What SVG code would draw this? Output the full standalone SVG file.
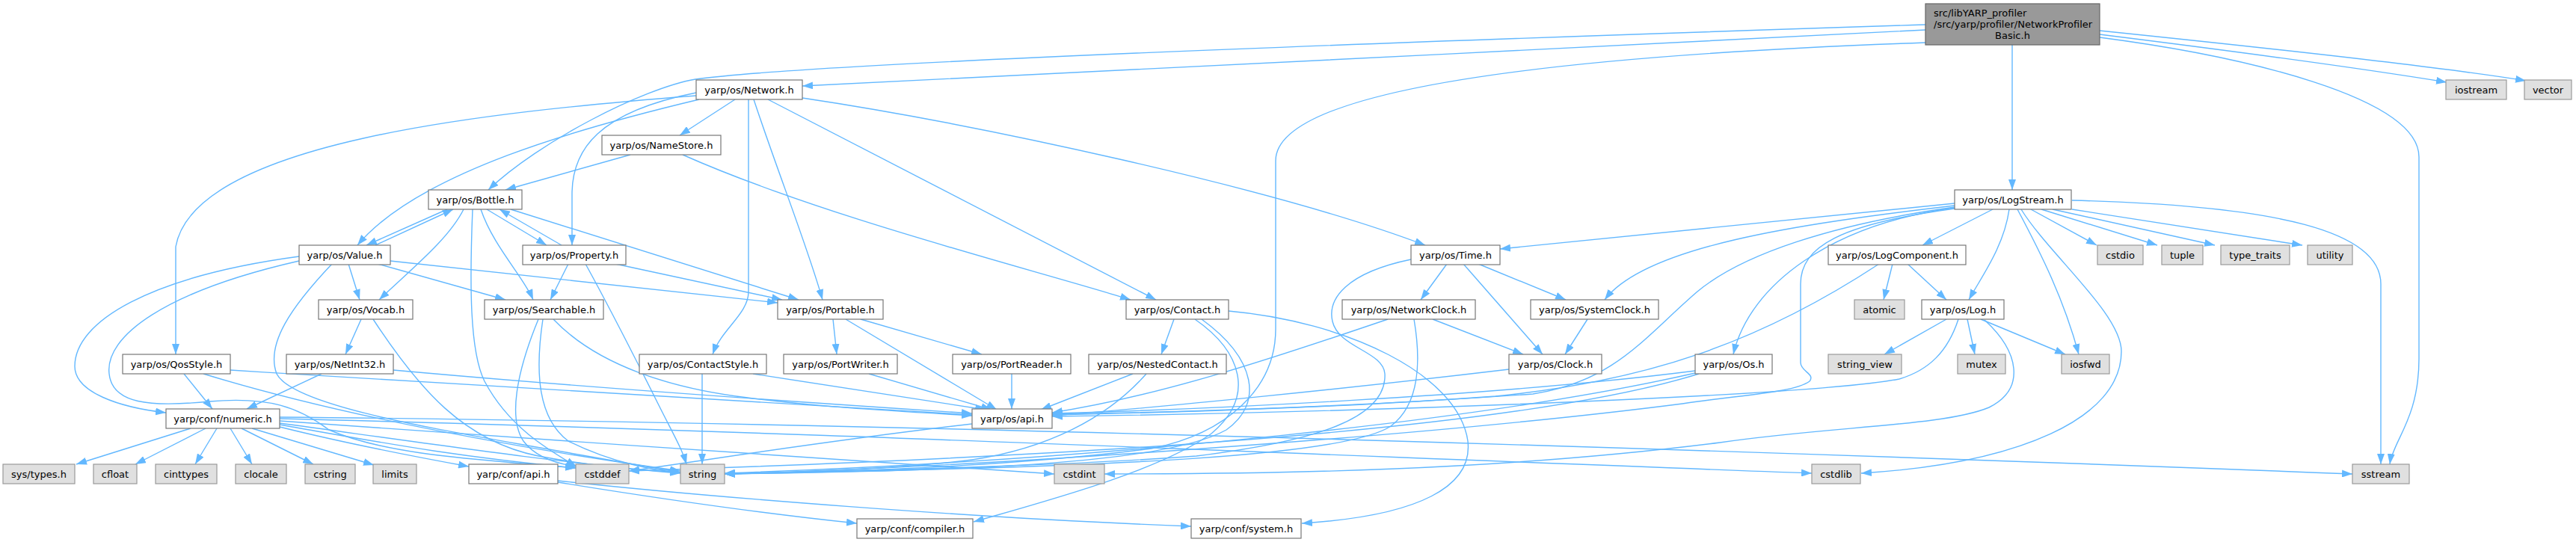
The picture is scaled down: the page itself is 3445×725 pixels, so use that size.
<svg xmlns="http://www.w3.org/2000/svg" width="3445" height="725" viewBox="0 0 3445 725">
<style>
.e path{fill:none;stroke:#63b8ff;stroke-width:1.4;marker-end:url(#ah)}
.n rect{fill:#ffffff;stroke:#777777;stroke-width:1.2}
.s rect{fill:#e0e0e0;stroke:#999999;stroke-width:1.2}
.r rect{fill:#999999;stroke:#666666;stroke-width:1.2}
text{font-family:"DejaVu Sans","Liberation Sans",sans-serif;font-size:13px;fill:#000}
.c{text-anchor:middle}
</style>
<defs>
<marker id="ah" markerUnits="userSpaceOnUse" markerWidth="15" markerHeight="10" refX="14" refY="5" orient="auto"><path d="M0,0 L14,5 L0,10 z" fill="#63b8ff"/></marker>
</defs>
<rect width="3445" height="725" fill="#ffffff"/>
<g id="connectors" class="e">
<path d="M2575,40 C2100,62 1500,97 1073,115"/>
<path d="M2575,33 C1800,58 1080,85 930,106 C860,118 720,190 653,254"/>
<path d="M2691,60 L2691,254"/>
<path d="M2808,46 C3000,70 3180,95 3272,110"/>
<path d="M2808,41 C3050,66 3280,92 3378,108"/>
<path d="M2808,50 C3000,75 3235,130 3235,210 L3235,480 C3235,560 3200,590 3196,621"/>
<path d="M2575,57 C2150,72 1706,110 1706,215 L1706,440 C1706,520 1640,580 1540,600 C1350,625 1100,632 969,634"/>
<path d="M983,133 L909,181"/>
<path d="M931,124 C800,150 765,200 765,260 L765,328"/>
<path d="M931,128 C650,150 260,190 235,330 L235,474"/>
<path d="M935,133 C780,170 560,230 478,328"/>
<path d="M1001,133 L1001,390 C1001,420 965,440 953,474"/>
<path d="M1008,133 C1040,230 1080,330 1100,401"/>
<path d="M1027,133 L1546,401"/>
<path d="M1073,131 C1300,165 1700,250 1906,328"/>
<path d="M843,207 L676,254"/>
<path d="M913,207 C1100,290 1380,360 1512,401"/>
<path d="M598,280 L490,328"/>
<path d="M651,280 L731,328"/>
<path d="M620,280 C600,320 550,360 507,401"/>
<path d="M632,280 C628,380 628,470 648,510 C680,570 730,600 771,624"/>
<path d="M643,280 C660,330 700,370 713,401"/>
<path d="M683,280 L1068,401"/>
<path d="M502,328 L606,280"/>
<path d="M400,343 C200,370 100,430 100,490 C100,525 160,545 222,552"/>
<path d="M400,349 C220,390 140,450 146,500 C150,540 200,545 280,537 C360,530 400,545 440,575 C520,610 650,615 770,626"/>
<path d="M444,353 C390,410 355,460 370,500 C390,540 560,570 700,595 C800,612 870,625 910,632"/>
<path d="M466,353 L481,401"/>
<path d="M505,353 L676,401"/>
<path d="M522,349 L1040,405"/>
<path d="M751,328 L668,280"/>
<path d="M760,353 L736,401"/>
<path d="M783,353 C820,420 850,480 880,540 C900,580 912,600 918,621"/>
<path d="M823,353 L1046,401"/>
<path d="M1935,353 L1900,401"/>
<path d="M1957,353 L2063,474"/>
<path d="M1977,353 L2094,401"/>
<path d="M1887,347 C1800,365 1775,400 1782,430 C1790,465 1850,470 1852,500 C1855,560 1760,590 1600,610 C1400,625 1100,630 969,634"/>
<path d="M1916,427 L2037,474"/>
<path d="M1856,427 C1700,480 1550,530 1407,552"/>
<path d="M1891,427 C1900,480 1900,540 1860,570 C1800,610 1500,625 969,634"/>
<path d="M2123,427 L2093,474"/>
<path d="M2018,494 C1800,520 1550,545 1407,556"/>
<path d="M2267,496 C2000,530 1600,548 1407,553"/>
<path d="M2267,499 C2000,560 1500,615 969,633"/>
<path d="M2272,500 C2000,585 1300,615 841,630"/>
<path d="M2614,272 L2006,333"/>
<path d="M2614,275 C2400,300 2200,330 2146,401"/>
<path d="M2614,277 C2450,300 2330,340 2270,390 C2200,450 2160,510 2050,527 C1800,545 1550,552 1407,554"/>
<path d="M2614,278 C2450,300 2340,380 2318,474"/>
<path d="M2614,279 C2460,300 2408,330 2408,380 L2408,485 C2408,497 2428,500 2420,510 C2400,525 2330,528 2250,540 C1900,585 1300,625 969,634"/>
<path d="M2665,280 L2571,328"/>
<path d="M2687,280 C2680,330 2650,370 2633,401"/>
<path d="M2698,280 C2730,340 2760,400 2780,474"/>
<path d="M2703,280 C2740,340 2837,420 2837,470 C2837,560 2700,620 2489,633"/>
<path d="M2716,280 L2804,328"/>
<path d="M2730,280 L2885,328"/>
<path d="M2745,280 L2962,328"/>
<path d="M2771,280 L3079,328"/>
<path d="M2771,268 C3050,275 3184,310 3184,380 L3184,621"/>
<path d="M2513,353 C2350,460 2200,510 2000,530 C1800,545 1550,552 1407,555"/>
<path d="M2531,353 L2519,401"/>
<path d="M2551,353 L2603,401"/>
<path d="M2603,427 L2520,474"/>
<path d="M2631,427 L2641,474"/>
<path d="M2649,427 L2762,474"/>
<path d="M2619,427 C2605,470 2580,495 2540,507 C2420,530 1800,552 1407,557"/>
<path d="M2654,428 C2700,470 2710,520 2660,545 C2600,570 2450,570 2300,592 C2000,630 1700,634 1477,634"/>
<path d="M246,500 L284,547"/>
<path d="M308,495 C700,520 1100,545 1300,555"/>
<path d="M272,500 C500,570 800,615 910,630"/>
<path d="M430,500 L330,547"/>
<path d="M526,495 C800,520 1100,540 1300,553"/>
<path d="M483,427 L462,474"/>
<path d="M499,427 C560,520 620,590 720,610 C800,625 870,630 910,632"/>
<path d="M740,427 C800,490 900,520 1000,532 C1100,545 1200,550 1300,556"/>
<path d="M720,427 C690,500 680,560 700,590 C715,610 740,620 772,624"/>
<path d="M726,427 C715,500 720,560 760,590 C820,620 880,630 910,632"/>
<path d="M1114,427 L1119,474"/>
<path d="M1131,427 L1333,548"/>
<path d="M1151,427 L1313,474"/>
<path d="M1007,500 L1318,548"/>
<path d="M939,500 L939,621"/>
<path d="M1162,500 L1326,548"/>
<path d="M1353,500 L1353,547"/>
<path d="M1515,500 L1392,548"/>
<path d="M1533,500 C1480,560 1400,600 1300,615 C1200,628 1050,632 969,634"/>
<path d="M1570,427 L1553,474"/>
<path d="M1643,416 C1800,430 1950,500 1963,590 C1970,650 1900,690 1741,700"/>
<path d="M1598,427 C1660,470 1680,530 1620,580 C1550,630 1400,670 1302,698"/>
<path d="M1607,427 C1680,480 1690,540 1640,575 C1560,620 1300,630 969,634"/>
<path d="M255,573 L102,621"/>
<path d="M275,573 L181,621"/>
<path d="M290,573 L261,621"/>
<path d="M308,573 L337,621"/>
<path d="M323,573 L419,621"/>
<path d="M337,573 L500,622"/>
<path d="M374,571 C450,590 550,610 627,624"/>
<path d="M374,568 C500,590 600,610 770,626"/>
<path d="M374,566 C550,590 750,620 910,633"/>
<path d="M374,563 C700,585 1100,615 1410,634"/>
<path d="M374,560 C1000,575 1800,610 2423,633"/>
<path d="M374,558 C1200,565 2400,605 3146,634"/>
<path d="M746,645 C900,670 1050,690 1146,700"/>
<path d="M746,643 C950,665 1300,693 1593,704"/>
<path d="M1300,567 C1100,590 950,615 841,630"/>
</g>
<g id="node_root" class="r"><rect x="2575" y="5" width="233" height="55"/><text x="2586" y="22">src/libYARP_profiler</text><text x="2586" y="37">/src/yarp/profiler/NetworkProfiler</text><text class="c" x="2691.5" y="52">Basic.h</text></g>
<g id="node_network" class="n"><rect x="931" y="107" width="142" height="26"/><text class="c" x="1002" y="124.5">yarp/os/Network.h</text></g>
<g id="node_iostream" class="s"><rect x="3271" y="107" width="81" height="26"/><text class="c" x="3311.5" y="124.5">iostream</text></g>
<g id="node_vector" class="s"><rect x="3376" y="107" width="63" height="26"/><text class="c" x="3407.5" y="124.5">vector</text></g>
<g id="node_namestore" class="n"><rect x="805" y="181" width="159" height="26"/><text class="c" x="884.5" y="198.5">yarp/os/NameStore.h</text></g>
<g id="node_bottle" class="n"><rect x="573" y="254" width="125" height="26"/><text class="c" x="635.5" y="271.5">yarp/os/Bottle.h</text></g>
<g id="node_logstream" class="n"><rect x="2614" y="254" width="156" height="26"/><text class="c" x="2692" y="271.5">yarp/os/LogStream.h</text></g>
<g id="node_value" class="n"><rect x="400" y="328" width="122" height="26"/><text class="c" x="461" y="345.5">yarp/os/Value.h</text></g>
<g id="node_property" class="n"><rect x="699" y="328" width="138" height="26"/><text class="c" x="768" y="345.5">yarp/os/Property.h</text></g>
<g id="node_time" class="n"><rect x="1887" y="328" width="119" height="26"/><text class="c" x="1946.5" y="345.5">yarp/os/Time.h</text></g>
<g id="node_logcomponent" class="n"><rect x="2445" y="328" width="184" height="26"/><text class="c" x="2537" y="345.5">yarp/os/LogComponent.h</text></g>
<g id="node_cstdio" class="s"><rect x="2805" y="328" width="61" height="26"/><text class="c" x="2835.5" y="345.5">cstdio</text></g>
<g id="node_tuple" class="s"><rect x="2891" y="328" width="55" height="26"/><text class="c" x="2918.5" y="345.5">tuple</text></g>
<g id="node_type_traits" class="s"><rect x="2970" y="328" width="92" height="26"/><text class="c" x="3016" y="345.5">type_traits</text></g>
<g id="node_utility" class="s"><rect x="3086" y="328" width="60" height="26"/><text class="c" x="3116" y="345.5">utility</text></g>
<g id="node_vocab" class="n"><rect x="426" y="401" width="126" height="26"/><text class="c" x="489" y="418.5">yarp/os/Vocab.h</text></g>
<g id="node_searchable" class="n"><rect x="648" y="401" width="159" height="26"/><text class="c" x="727.5" y="418.5">yarp/os/Searchable.h</text></g>
<g id="node_portable" class="n"><rect x="1040" y="401" width="141" height="26"/><text class="c" x="1110.5" y="418.5">yarp/os/Portable.h</text></g>
<g id="node_contact" class="n"><rect x="1506" y="401" width="137" height="26"/><text class="c" x="1574.5" y="418.5">yarp/os/Contact.h</text></g>
<g id="node_networkclock" class="n"><rect x="1795" y="401" width="178" height="26"/><text class="c" x="1884" y="418.5">yarp/os/NetworkClock.h</text></g>
<g id="node_systemclock" class="n"><rect x="2047" y="401" width="171" height="26"/><text class="c" x="2132.5" y="418.5">yarp/os/SystemClock.h</text></g>
<g id="node_atomic" class="s"><rect x="2480" y="401" width="67" height="26"/><text class="c" x="2513.5" y="418.5">atomic</text></g>
<g id="node_log" class="n"><rect x="2570" y="401" width="110" height="26"/><text class="c" x="2625" y="418.5">yarp/os/Log.h</text></g>
<g id="node_qosstyle" class="n"><rect x="164" y="474" width="144" height="26"/><text class="c" x="236" y="491.5">yarp/os/QosStyle.h</text></g>
<g id="node_netint32" class="n"><rect x="383" y="474" width="143" height="26"/><text class="c" x="454.5" y="491.5">yarp/os/NetInt32.h</text></g>
<g id="node_contactstyle" class="n"><rect x="855" y="474" width="170" height="26"/><text class="c" x="940" y="491.5">yarp/os/ContactStyle.h</text></g>
<g id="node_portwriter" class="n"><rect x="1048" y="474" width="152" height="26"/><text class="c" x="1124" y="491.5">yarp/os/PortWriter.h</text></g>
<g id="node_portreader" class="n"><rect x="1274" y="474" width="158" height="26"/><text class="c" x="1353" y="491.5">yarp/os/PortReader.h</text></g>
<g id="node_nestedcontact" class="n"><rect x="1456" y="474" width="184" height="26"/><text class="c" x="1548" y="491.5">yarp/os/NestedContact.h</text></g>
<g id="node_clock" class="n"><rect x="2018" y="474" width="124" height="26"/><text class="c" x="2080" y="491.5">yarp/os/Clock.h</text></g>
<g id="node_os" class="n"><rect x="2267" y="474" width="103" height="26"/><text class="c" x="2318.5" y="491.5">yarp/os/Os.h</text></g>
<g id="node_string_view" class="s"><rect x="2445" y="474" width="98" height="26"/><text class="c" x="2494" y="491.5">string_view</text></g>
<g id="node_mutex" class="s"><rect x="2618" y="474" width="64" height="26"/><text class="c" x="2650" y="491.5">mutex</text></g>
<g id="node_iosfwd" class="s"><rect x="2757" y="474" width="64" height="26"/><text class="c" x="2789" y="491.5">iosfwd</text></g>
<g id="node_numeric" class="n"><rect x="222" y="547" width="152" height="26"/><text class="c" x="298" y="564.5">yarp/conf/numeric.h</text></g>
<g id="node_os_api" class="n"><rect x="1300" y="547" width="107" height="26"/><text class="c" x="1353.5" y="564.5">yarp/os/api.h</text></g>
<g id="node_systypes" class="s"><rect x="4" y="621" width="96" height="26"/><text class="c" x="52" y="638.5">sys/types.h</text></g>
<g id="node_cfloat" class="s"><rect x="125" y="621" width="58" height="26"/><text class="c" x="154" y="638.5">cfloat</text></g>
<g id="node_cinttypes" class="s"><rect x="208" y="621" width="82" height="26"/><text class="c" x="249" y="638.5">cinttypes</text></g>
<g id="node_clocale" class="s"><rect x="315" y="621" width="68" height="26"/><text class="c" x="349" y="638.5">clocale</text></g>
<g id="node_cstring" class="s"><rect x="408" y="621" width="67" height="26"/><text class="c" x="441.5" y="638.5">cstring</text></g>
<g id="node_limits" class="s"><rect x="499" y="621" width="58" height="26"/><text class="c" x="528" y="638.5">limits</text></g>
<g id="node_conf_api" class="n"><rect x="627" y="621" width="119" height="26"/><text class="c" x="686.5" y="638.5">yarp/conf/api.h</text></g>
<g id="node_cstddef" class="s"><rect x="770" y="621" width="71" height="26"/><text class="c" x="805.5" y="638.5">cstddef</text></g>
<g id="node_string" class="s"><rect x="910" y="621" width="59" height="26"/><text class="c" x="939.5" y="638.5">string</text></g>
<g id="node_cstdint" class="s"><rect x="1410" y="621" width="67" height="26"/><text class="c" x="1443.5" y="638.5">cstdint</text></g>
<g id="node_cstdlib" class="s"><rect x="2423" y="621" width="65" height="26"/><text class="c" x="2455.5" y="638.5">cstdlib</text></g>
<g id="node_sstream" class="s"><rect x="3146" y="621" width="76" height="26"/><text class="c" x="3184" y="638.5">sstream</text></g>
<g id="node_compiler" class="n"><rect x="1146" y="694" width="155" height="26"/><text class="c" x="1223.5" y="711.5">yarp/conf/compiler.h</text></g>
<g id="node_system" class="n"><rect x="1593" y="694" width="147" height="26"/><text class="c" x="1666.5" y="711.5">yarp/conf/system.h</text></g>
</svg>
